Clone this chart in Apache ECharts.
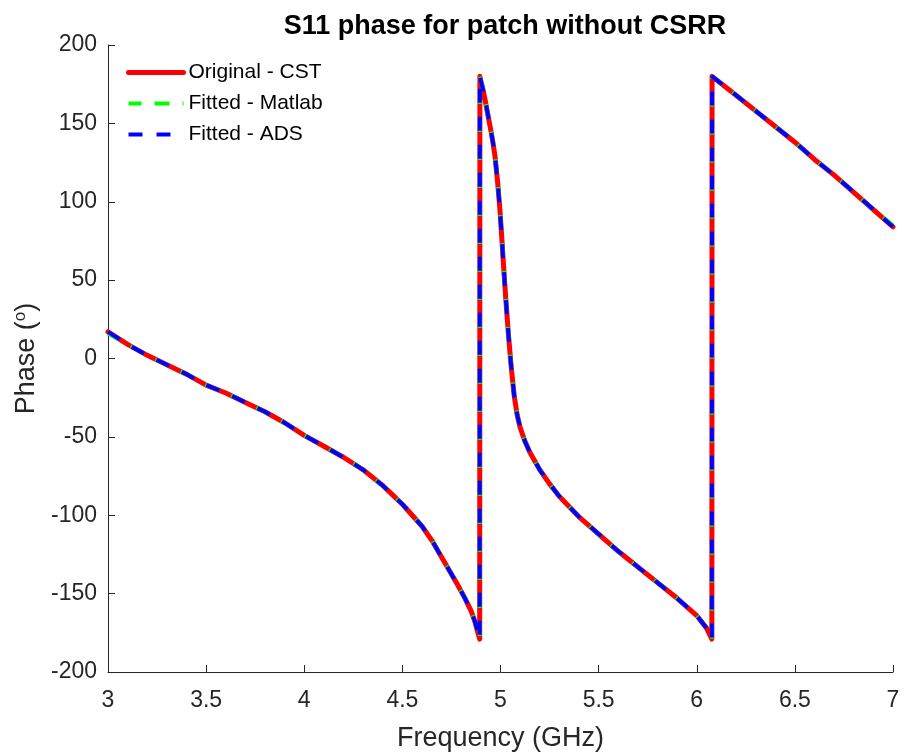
<!DOCTYPE html>
<html>
<head>
<meta charset="utf-8">
<script src="https://cdn.jsdelivr.net/npm/echarts@6/dist/echarts.min.js"></script>
<style>html,body{margin:0;padding:0;background:#fff;overflow:hidden;}#c{width:914px;height:754px;}</style>
</head>
<body>
<div id="c"></div>
<script>
// Frequency (GHz) and S11 phase (degrees)
const freq = [3.0, 3.1, 3.2, 3.3, 3.4, 3.5, 3.6, 3.7, 3.8, 3.9, 4.0, 4.1, 4.2, 4.3, 4.35, 4.4, 4.45, 4.5, 4.55, 4.6, 4.65, 4.692, 4.743, 4.78, 4.819, 4.85, 4.87, 4.885, 4.894,
  4.895, 4.90, 4.91, 4.92, 4.935, 4.95, 4.96, 4.972, 4.985, 4.997, 5.006, 5.015, 5.027, 5.04, 5.055, 5.07, 5.085, 5.1, 5.125, 5.15, 5.2, 5.25, 5.3, 5.4, 5.5, 5.6, 5.7, 5.8, 5.9, 6.0, 6.05, 6.077,
  6.078, 6.2, 6.3, 6.4, 6.5, 6.6, 6.7, 6.8, 6.9, 7.0];
const phaseCST = [17, 9, 2, -4, -10, -17, -22, -28, -34, -41, -49, -56, -63, -71, -76, -81, -87, -93, -100, -107, -116, -125, -136, -144, -153, -161, -168, -175, -179,
  180, 177, 172, 166, 156, 146, 139, 129, 113, 95, 78, 60, 38, 16, -6, -24, -36, -44, -53, -60, -71, -80, -88, -101, -112, -123, -133, -143, -153, -164, -172, -179,
  180, 168, 158, 148, 138, 127, 117, 106, 95, 84];
const phaseMatlab = [16, 9, 2, -4, -10, -17, -22, -28, -34, -41, -49, -56, -63, -71, -76, -81, -87, -93, -100, -107, -116, -125, -136, -144, -153, -161, -168, -175, -179,
  180, 177, 172, 166, 156, 146, 139, 129, 113, 95, 78, 60, 38, 16, -6, -24, -36, -44, -53, -60, -71, -80, -88, -101, -112, -123, -133, -143, -153, -164, -172, -179,
  180, 168, 158, 148, 138, 127, 117, 106, 95, 85];
const phaseADS = [17, 9, 2, -4, -10, -17, -22, -28, -34, -41, -49, -56, -63, -71, -76, -81, -87, -93, -100, -107, -116, -125, -136, -144, -153, -161, -168, -175, -179,
  180, 177, 172, 166, 156, 146, 139, 129, 113, 95, 78, 60, 38, 16, -6, -24, -36, -44, -53, -60, -71, -80, -88, -101, -112, -123, -133, -143, -153, -164, -172, -179,
  180, 168, 158, 148, 138, 127, 117, 106, 95, 84];
const xTicks = {min: 3, max: 7, step: 0.5};
const yTicks = {min: -200, max: 200, step: 50};
const seriesNames = ['Original - CST', 'Fitted - Matlab', 'Fitted - ADS'];

const pair = (ys) => freq.map((f, i) => [f, ys[i]]);
const txt = '#262626';
const font = '"Liberation Sans", Arial, sans-serif';

const chart = echarts.init(document.getElementById('c'), null, {renderer: 'canvas'});
chart.setOption({
  animation: false,
  backgroundColor: '#fff',
  title: {
    text: 'S11 phase for patch without CSRR',
    left: 500, textAlign: 'center', top: 8,
    textStyle: {fontFamily: font, fontSize: 27, fontWeight: 'bold', color: '#000'}
  },
  legend: {
    left: 126, top: 62, orient: 'vertical', padding: 0,
    itemWidth: 55, itemHeight: 14, itemGap: 10,
    itemStyle: {opacity: 0},
    textStyle: {fontFamily: font, fontSize: 21, color: '#000'},
    data: [
      {name: seriesNames[0], lineStyle: {width: 5}},
      {name: seriesNames[1], lineStyle: {width: 4}},
      {name: seriesNames[2], lineStyle: {width: 4}}
    ]
  },
  grid: {left: 108, width: 785, top: 45, height: 627, containLabel: false, outerBoundsMode: 'none'},
  xAxis: {
    type: 'value', min: xTicks.min, max: xTicks.max, interval: xTicks.step,
    name: 'Frequency (GHz)', nameLocation: 'middle', nameGap: 53,
    nameTextStyle: {fontFamily: font, fontSize: 27, color: txt},
    axisLine: {show: true, onZero: false, lineStyle: {color: txt, width: 1}},
    axisTick: {show: true, inside: true, length: 7, lineStyle: {color: txt}},
    axisLabel: {fontFamily: font, fontSize: 23, color: txt, margin: 17},
    splitLine: {show: false}
  },
  yAxis: {
    type: 'value', min: yTicks.min, max: yTicks.max, interval: yTicks.step,
    name: '{a|Phase (}{b|o}{a|)}', nameLocation: 'middle', nameGap: 58, nameRotate: 90,
    nameTextStyle: {
      rich: {
        a: {fontFamily: font, fontSize: 27, color: txt},
        b: {fontFamily: font, fontSize: 17, color: txt, verticalAlign: 'top', padding: [0, 0, 12, 0]}
      }
    },
    axisLine: {show: true, onZero: false, lineStyle: {color: txt, width: 1}},
    axisTick: {show: true, inside: true, length: 7, lineStyle: {color: txt}},
    axisLabel: {fontFamily: font, fontSize: 23, color: txt, margin: 11},
    splitLine: {show: false}
  },
  series: [
    {
      name: seriesNames[0], type: 'line', data: pair(phaseCST), symbol: 'none',
      lineStyle: {color: '#ff0000', width: 5, type: 'solid', cap: 'round', join: 'round'}, itemStyle: {color: '#ff0000'}
    },
    {
      name: seriesNames[1], type: 'line', data: pair(phaseMatlab), symbol: 'none',
      lineStyle: {color: '#00ff00', width: 4, type: [15, 13], dashOffset: 2, cap: 'butt'}, itemStyle: {color: '#00ff00'}
    },
    {
      name: seriesNames[2], type: 'line', data: pair(phaseADS), symbol: 'none',
      lineStyle: {color: '#0000ff', width: 4, type: [14, 14], dashOffset: 0, cap: 'butt'}, itemStyle: {color: '#0000ff'}
    }
  ]
});
</script>
</body>
</html>
